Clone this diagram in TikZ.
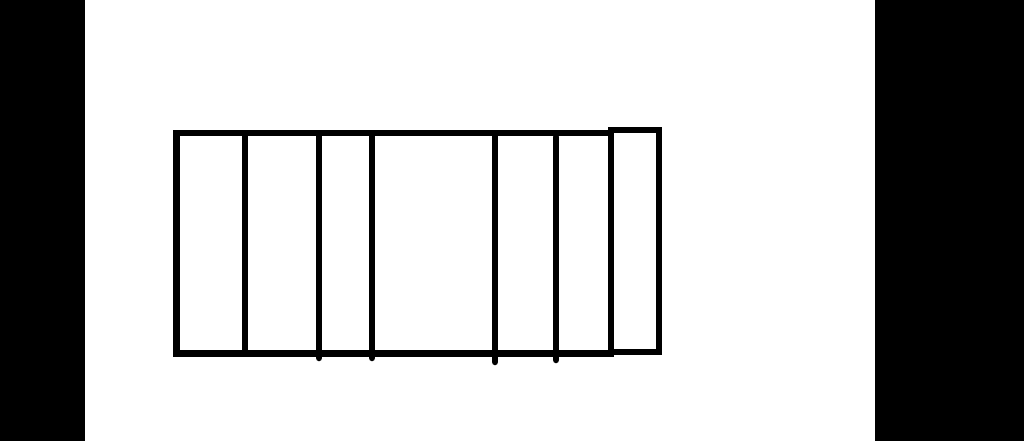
\documentclass[tikz,border=0pt]{standalone}
\begin{document}
\begin{tikzpicture}[line width=0.065cm]
    % Frame
    \useasboundingbox (0,0) rectangle (10.24,4.41);
    \fill [black] (0,0) rectangle (0.85,4.41);
    \fill [black] (8.75,0) rectangle (10.24,4.41);

    % Strip
    \draw (1.765,0.875) rectangle (6.11,3.08);

    % Dividers
    \draw (2.45,0.875) -- (2.45,3.08);
    \draw [line cap=round] (3.19,3.06) -- (3.19,0.83);
    \draw [line cap=round] (3.72,3.06) -- (3.72,0.83);
    \draw [line cap=round] (4.95,3.06) -- (4.95,0.79);
    \draw [line cap=round] (5.56,3.04) -- (5.56,0.81);

    % End cap
    \draw (6.11,0.89) rectangle (6.59,3.11);
\end{tikzpicture}
\end{document}
